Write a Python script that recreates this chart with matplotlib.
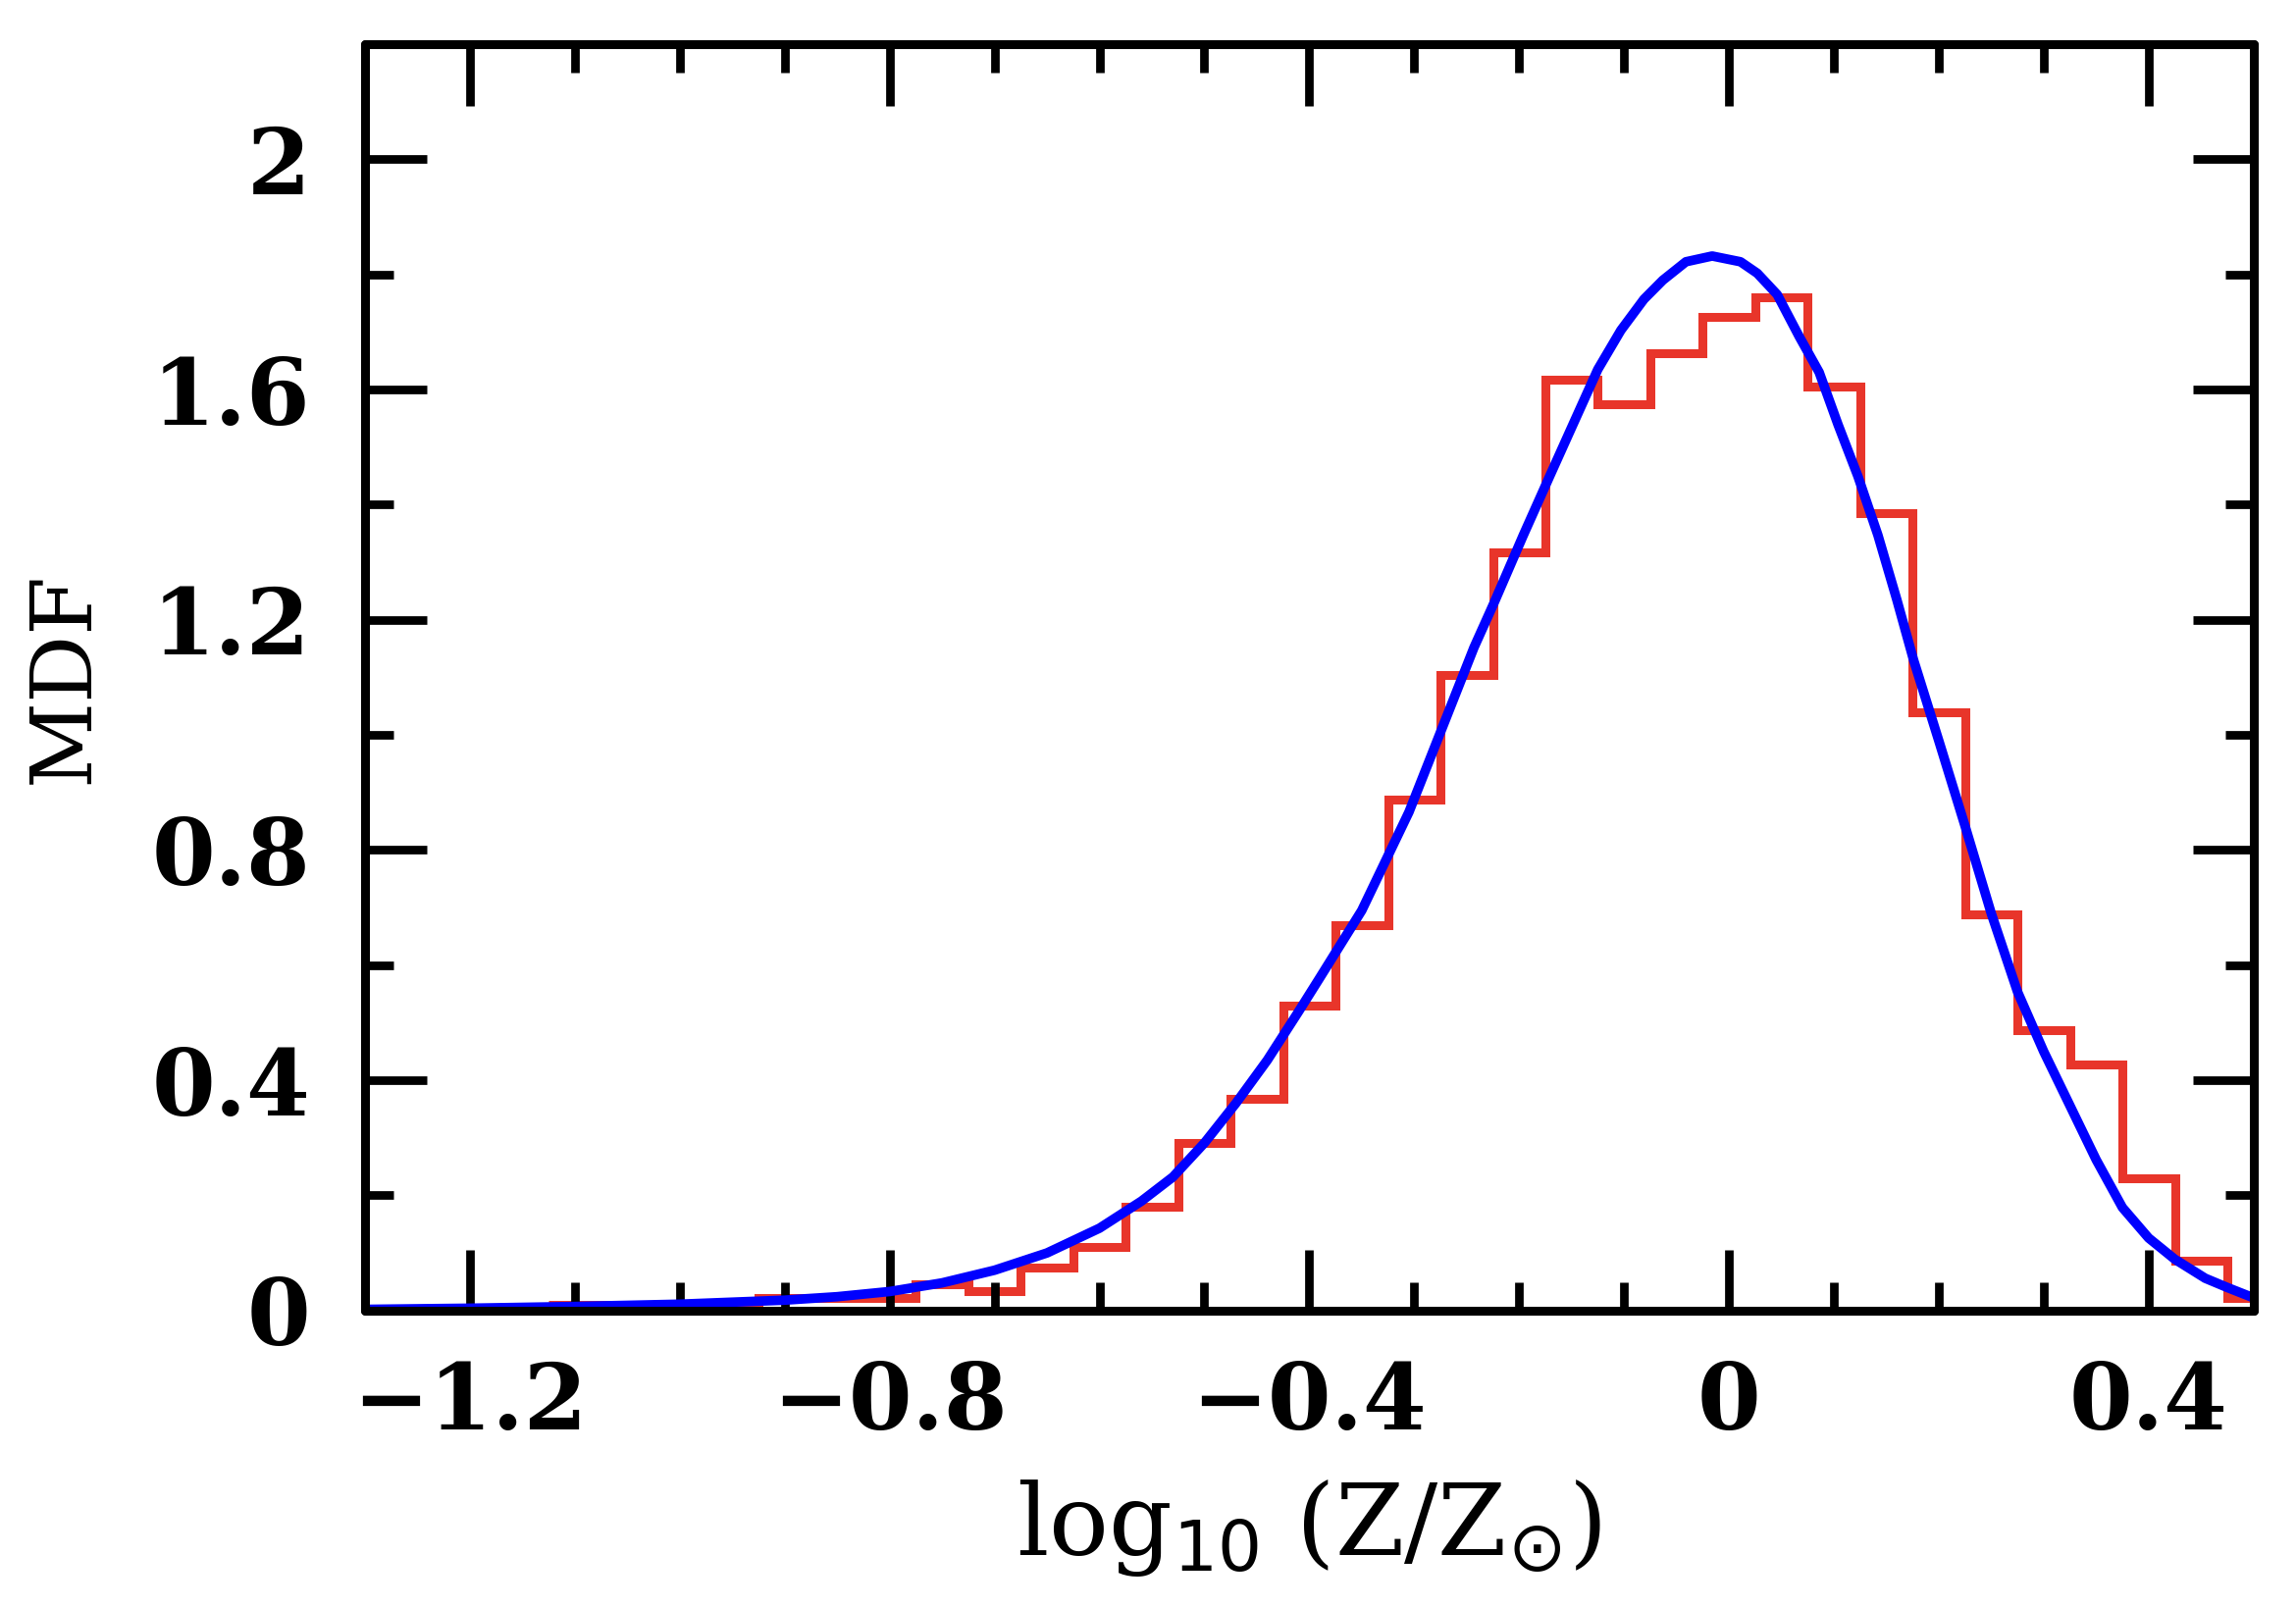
import matplotlib
matplotlib.use("Agg")
import matplotlib.pyplot as plt
import numpy as np
from matplotlib.ticker import MultipleLocator, FuncFormatter

# histogram of log10(Z/Zsun): bin centres and MDF heights
bin_centres = [-1.10, -1.05, -1.00, -0.95, -0.90, -0.85, -0.80, -0.75, -0.70,
               -0.65, -0.60, -0.55, -0.50, -0.45, -0.40, -0.35, -0.30, -0.25,
               -0.20, -0.15, -0.10, -0.05, 0.00, 0.05, 0.10, 0.15, 0.20,
               0.25, 0.30, 0.35, 0.40, 0.45, 0.50]
mdf_hist = [0.010, 0.010, 0.010, 0.010, 0.022, 0.022, 0.022, 0.045, 0.033,
            0.074, 0.111, 0.181, 0.291, 0.367, 0.529, 0.670, 0.888, 1.104,
            1.317, 1.617, 1.575, 1.664, 1.727, 1.760, 1.605, 1.386, 1.040,
            0.688, 0.487, 0.428, 0.229, 0.086, 0.022]
bin_width = 0.05

# smooth model curve
model_x = [-1.30, -1.20, -1.10, -1.00, -0.90, -0.85, -0.80, -0.75, -0.70,
           -0.65, -0.60, -0.56, -0.53, -0.50, -0.47, -0.44, -0.41, -0.39,
           -0.35, -0.305, -0.274, -0.243, -0.224, -0.196, -0.171, -0.150,
           -0.125, -0.103, -0.081, -0.063, -0.041, -0.016, 0.011, 0.027,
           0.046, 0.067, 0.086, 0.104, 0.123, 0.142, 0.160, 0.176, 0.200,
           0.225, 0.250, 0.275, 0.300, 0.325, 0.350, 0.375, 0.400, 0.425,
           0.454, 0.475, 0.500]
model_y = [0.002, 0.004, 0.007, 0.011, 0.018, 0.024, 0.033, 0.048, 0.070,
           0.100, 0.143, 0.190, 0.232, 0.291, 0.360, 0.435, 0.520, 0.578,
           0.695, 0.866, 1.009, 1.152, 1.229, 1.347, 1.449, 1.534,
           1.635, 1.703, 1.757, 1.790, 1.822, 1.832, 1.822, 1.802,
           1.765, 1.692, 1.630, 1.539, 1.449, 1.347, 1.235, 1.130, 0.990,
           0.842, 0.690, 0.554, 0.450, 0.356, 0.262, 0.179, 0.126, 0.089,
           0.056, 0.040, 0.022]

fig = plt.figure(figsize=(23.4, 16.38), dpi=100)
ax = fig.add_axes([0.159, 0.1845, 0.8225, 0.788])

edges = np.array(bin_centres) - bin_width / 2
edges = np.append(edges, bin_centres[-1] + bin_width / 2)
ax.stairs(mdf_hist, edges, color="#e8352a", lw=6.5, baseline=None)
ax.plot(model_x, model_y, color="#0000ff", lw=7, solid_joinstyle="round",
        solid_capstyle="round")

ax.set_xlim(-1.3, 0.5)
ax.set_ylim(0, 2.2)
ax.xaxis.set_major_locator(MultipleLocator(0.4))
ax.xaxis.set_minor_locator(MultipleLocator(0.1))
ax.yaxis.set_major_locator(MultipleLocator(0.4))
ax.yaxis.set_minor_locator(MultipleLocator(0.2))

def fmt(v, pos):
    s = "%.1f" % v
    if s in ("0.0", "-0.0"):
        return "0"
    if s == "2.0":
        return "2"
    return s.replace("-", "\u2212")

ax.xaxis.set_major_formatter(FuncFormatter(fmt))
ax.yaxis.set_major_formatter(FuncFormatter(fmt))

for s in ax.spines.values():
    s.set_linewidth(6.5)
    s.set_capstyle("round")
ax.tick_params(which="both", direction="in", top=True, right=True, width=6.3)
ax.tick_params(which="major", length=45)
ax.tick_params(which="minor", length=21)
ax.tick_params(axis="x", which="major", pad=36)
ax.tick_params(axis="y", which="major", pad=40)
for lab in ax.get_xticklabels() + ax.get_yticklabels():
    lab.set_fontfamily("DejaVu Serif")
    lab.set_fontweight("bold")
    lab.set_fontsize(67)

plt.rcParams["mathtext.fontset"] = "dejavuserif"
ax.set_xlabel(r"log$_{10}$ (Z/Z$_{\odot}$)", family="DejaVu Serif",
              fontsize=73, labelpad=22)
ax.set_ylabel("MDF", family="DejaVu Serif", fontsize=62, labelpad=34)

fig.savefig("out.png", dpi=100)
